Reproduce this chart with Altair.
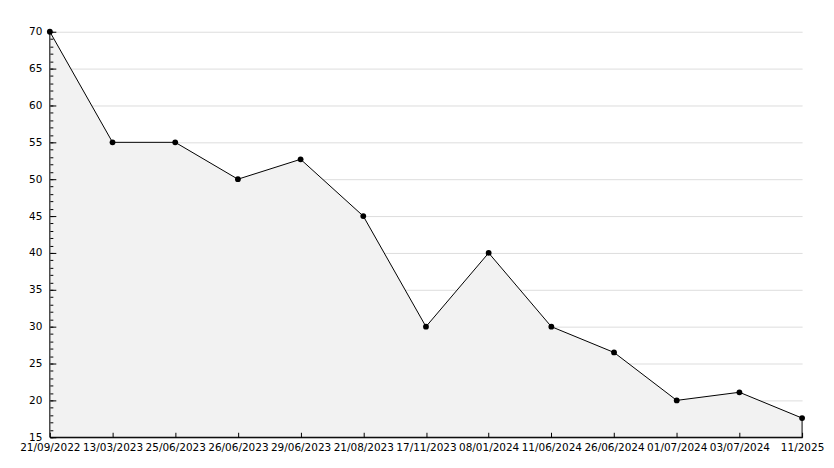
import altair as alt
import pandas as pd

dates = ["21/09/2022", "13/03/2023", "25/06/2023", "26/06/2023", "29/06/2023",
         "21/08/2023", "17/11/2023", "08/01/2024", "11/06/2024", "26/06/2024",
         "01/07/2024", "03/07/2024", "11/2025"]
values = [70, 55, 55, 50, 52.7, 45, 30, 40, 30, 26.5, 20, 21.1, 17.6]
y_major = list(range(15, 71, 5))
y_minor = list(range(15, 71, 1))
y_floor = 15

df = pd.DataFrame({"date": dates, "value": values})

FONT = "DejaVu Sans"
FS = 10.5
xscale = alt.Scale(type="point", padding=0, domain=dates)
yscale = alt.Scale(domain=[15, 70], nice=False, zero=False)

W, H = 755, 407

base = alt.Chart(df)

area = base.mark_area(fill="#f2f2f2", stroke="black", strokeWidth=1, opacity=1).encode(
    x=alt.X("date:N", scale=xscale, sort=dates, title=None,
            axis=alt.Axis(orient="bottom", labelAngle=0, ticks=False, tickSize=0,
                          labelPadding=5, domainColor="black", domainWidth=1,
                          labelColor="black", labelFont=FONT, labelFontSize=FS,
                          grid=False, labelOverlap=False, labelFlush=False,
                          zindex=1)),
    y=alt.Y("value:Q", scale=yscale, title=None,
            axis=alt.Axis(orient="left", values=y_major, ticks=False, tickSize=0,
                          labelPadding=8, domainColor="black", domainWidth=1,
                          labelColor="black", labelFont=FONT, labelFontSize=FS,
                          grid=True, gridColor="#dddddd", gridWidth=1,
                          labelOverlap=False, labelFlush=False, zindex=0)),
    y2=alt.Y2(datum=y_floor),
)

points = base.mark_circle(color="black", size=34, opacity=1).encode(
    x=alt.X("date:N", scale=xscale, sort=dates, title=None,
            axis=alt.Axis(orient="top", offset=-H, labels=False, domain=False,
                          ticks=True, tickSize=5, tickColor="black", grid=False,
                          zindex=1)),
    y=alt.Y("value:Q", scale=yscale, title=None,
            axis=alt.Axis(orient="right", offset=-W, values=y_major, labels=False,
                          domain=False, ticks=True, tickSize=6, tickColor="black",
                          grid=False, zindex=1)),
)

minor = base.mark_point(opacity=0).encode(
    x=alt.X("date:N", scale=xscale, sort=dates, title=None, axis=None),
    y=alt.Y("value:Q", scale=yscale, title=None,
            axis=alt.Axis(orient="right", offset=-W, values=y_minor, labels=False,
                          domain=False, ticks=True, tickSize=3, tickColor="black",
                          grid=False, zindex=1)),
)

chart = alt.layer(area, points, minor).resolve_axis(
    x="independent", y="independent"
).properties(
    width=W, height=H,
    autosize=alt.AutoSizeParams(type="none"),
    padding={"left": 42, "top": 23, "right": 24, "bottom": 22},
    background="white",
).configure_view(stroke=None)

chart.save("out.html", embed_options={"renderer": "svg", "actions": False})
